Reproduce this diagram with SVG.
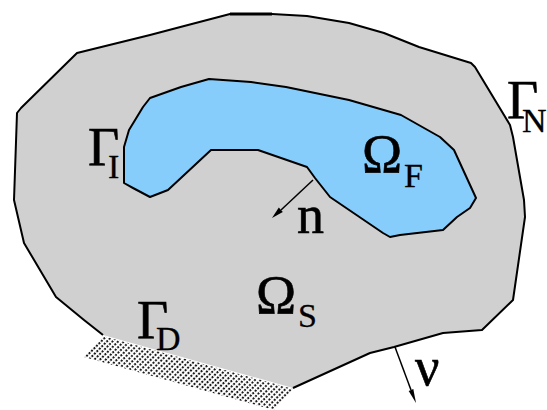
<svg xmlns="http://www.w3.org/2000/svg" width="547" height="410" viewBox="0 0 547 410">
<style>
.outline{fill:none;stroke:#000;stroke-width:2;stroke-linejoin:round}
.big{font-family:"Liberation Serif","DejaVu Serif",serif;font-size:54px;fill:#000;stroke:#000;stroke-width:0.6}
.sub{font-family:"Liberation Serif","DejaVu Serif",serif;font-size:34px;fill:#000;stroke:#000;stroke-width:0.3}
.arrow{stroke:#000;stroke-width:1.5;fill:none}
</style>
<defs>
<pattern id="hatch" width="4" height="3.5" patternUnits="userSpaceOnUse" patternTransform="rotate(45)">
<rect width="2" height="2" fill="#1a1a1a"/>
</pattern>
</defs>
<rect width="547" height="410" fill="#fff"/>
<g id="omega-s">
<polygon fill="#d0d0d0" points="230,14 272,14 307,16 349,23 384,33 419,47 471,63 475,67 510,125 513,137 524,200 525,217 513,300 482,330 443,333 394,347 370,353 293,388 103,335 84,320 56,297 24,243 14,200 17,113 21,108 77,53 150,35 188,25"/>
<polyline class="outline" points="293,388 370,353 394,347 443,333 482,330 513,300 525,217 524,200 513,137 510,125 475,67 471,63 419,47 384,33 349,23 307,16 272,14 230,14 188,25 150,35 77,53 21,108 17,113 14,200 24,243 56,297 84,320 103,335"/>
<line x1="230" y1="14" x2="272" y2="14" stroke="#000" stroke-width="3"/>
</g>
<g id="gamma-d-support">
<polygon fill="url(#hatch)" points="103,336 293,389 274,410 84,357"/>
</g>
<g id="omega-f">
<polygon fill="#87cdfb" stroke="#000" stroke-width="2" stroke-linejoin="round" points="209,79 251,82 286,87 349,100 401,115 440,137 454,150 476,198 470,208 457,217 443,230 400,235 390,237 383,233 330,197 315,178 307,167 258,150 211,150 168,190 150,197 133,188 124,183 124,147 129,130 143,107 150,98 181,87"/>
</g>
<g id="connectors">
<line class="arrow" x1="313" y1="180" x2="281" y2="210"/>
<polygon points="272,218 282.8,212 278.8,207.6" fill="#000"/>
<line class="arrow" x1="395" y1="347" x2="411" y2="390"/>
<polygon points="416,403 413.3,389.1 408.7,390.9" fill="#000"/>
</g>
<g id="labels">
<g id="label-gamma-i"><text class="big" x="88" y="165">Γ</text><text class="sub" x="108" y="178">I</text></g>
<g id="label-gamma-n"><text class="big" x="507" y="118">Γ</text><text class="sub" x="522" y="132" font-size="31">N</text></g>
<g id="label-omega-f"><text class="big" x="362" y="172">Ω</text><text class="sub" x="404" y="187">F</text></g>
<g id="label-omega-s"><text class="big" x="256" y="313">Ω</text><text class="sub" x="298" y="327">S</text></g>
<g id="label-gamma-d"><text class="big" x="137" y="338">Γ</text><text class="sub" x="156" y="350">D</text></g>
<g id="label-n"><text class="big" x="297" y="233">n</text></g>
<g id="label-nu"><text class="big" x="415" y="385">ν</text></g>
</g>
</svg>
